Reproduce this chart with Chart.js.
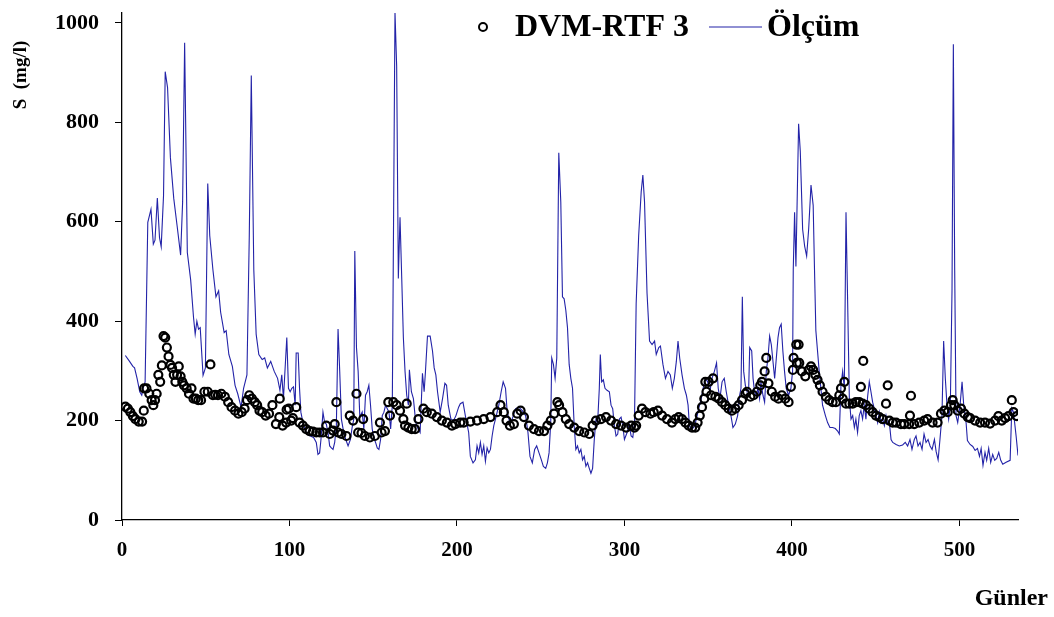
<!DOCTYPE html>
<html>
<head>
<meta charset="utf-8">
<script src="https://cdn.jsdelivr.net/npm/chart.js@4.4.1/dist/chart.umd.min.js"></script>
<style>
  html, body { margin: 0; padding: 0; background: #fff; }
  #wrap { width: 1054px; height: 617px; }
</style>
</head>
<body>
<div id="wrap"><canvas id="cv"></canvas></div>
<script>
// Ölçüm (measured) - day / value
const obsDays = [
  2, 4.5, 6.5, 7.5, 9, 10.6, 11.8, 12.6, 13.8, 15.4, 17.3, 18.7, 19.7, 21.1, 22.4, 23.4, 24.8, 25.8, 27.2, 28.9,
  30.9, 32.9, 35, 36.2, 37.4, 39, 41, 42.7, 43.7, 44.7, 45.7, 46.7, 48.4, 49.8, 51.2, 52.4, 54.3, 56.1, 57.7, 58.9,
  61, 62.2, 63.8, 65.9, 67.5, 69.1, 71.1, 72.6, 74.6, 76, 77.2, 78.7, 80.1, 81.7, 83.7, 85.2, 86.8, 88.8, 90.9, 92.9,
  94.3, 95.4, 96.4, 98.4, 99.4, 100.4, 101.4, 102.4, 103.4, 104, 105.2, 106, 106.8, 108.4, 110.4, 112.4, 114.4, 116, 117, 118,
  118.8, 120, 121, 122, 123, 124, 125, 126, 127, 128, 129, 130, 131, 132.4, 133.6, 135, 136.4, 137.4, 138.4, 139,
  140, 141, 142, 143.4, 144.4, 145.4, 146.4, 147.4, 148.4, 149.4, 150.4, 151.4, 152.4, 153.4, 154.4, 155.4, 156.4, 157.4, 158.4, 159.4,
  160.4, 161.4, 163, 164, 165, 166, 167, 168, 169, 170, 171, 171.6, 172.8, 174, 175.4, 176.8, 178, 179.4, 180.4, 181.2,
  182.4, 184, 185.4, 186.4, 187.4, 188.4, 190, 191.4, 192.8, 193.8, 194.8, 196.4, 198, 199.4, 201, 202, 203.6, 205, 207, 208,
  209.6, 211, 212, 213, 214, 215, 216, 217, 218, 219, 220, 221, 222, 223, 225, 226.4, 227.6, 229, 230, 231.6,
  233, 234, 235, 237, 239, 241, 242.4, 243.6, 245, 246.4, 247.6, 249, 250.4, 251.6, 253, 254, 255, 256, 256.6, 257.6,
  258.6, 259.6, 260.8, 262, 263, 264, 265, 266, 267, 268, 269, 270, 271, 272, 273, 274, 275, 276, 277, 278,
  279, 280, 281, 282, 283, 284, 285, 285.6, 286.4, 287.4, 288.4, 289.6, 291, 292, 293, 294, 295, 296, 297, 298,
  299, 300, 301.6, 302.8, 304, 305, 306, 307, 308.5, 310, 311, 312, 313.5, 315, 316.5, 318, 319, 320.5, 321.5, 323,
  324.5, 326, 327.4, 328.6, 329.8, 331, 332, 333, 334.4, 335.8, 337, 338, 338.8, 339.8, 341.4, 343, 344.3, 345.7, 347, 348.3,
  349.7, 351, 352.3, 353.7, 355, 356, 357, 358.3, 359.6, 360.8, 362.2, 363.6, 364.8, 366.2, 367.6, 368.8, 369.6, 370.4, 371.2, 372.2,
  373.2, 374.2, 374.8, 376, 376.8, 377.7, 378.7, 379.7, 380.7, 381.5, 382.7, 383.7, 384.7, 385.7, 386.7, 387.7, 388.7, 389.7, 390.7, 391.7,
  392.6, 393.6, 394.6, 395.6, 396.6, 398, 399.4, 400.4, 400.8, 401.6, 402.4, 404, 405, 406.4, 407.6, 408.8, 410, 411.4, 412.7, 413.5,
  414.3, 415.3, 416.3, 417.3, 418.3, 420, 421.3, 422.7, 424.3, 425.9, 427.3, 428.3, 429.3, 430.3, 431.3, 432.3, 433.3, 434.3, 435.3, 436.3,
  437.3, 438.2, 439.2, 440.2, 441.2, 442.2, 443.2, 444.2, 445.2, 446.2, 447.2, 448.2, 449.2, 450.2, 451.2, 452.2, 453.2, 454.2, 455.2, 456.2,
  457.2, 458.2, 459.2, 460.2, 462.2, 464.1, 466.1, 467.7, 469.1, 470.5, 471.7, 473.1, 474.1, 475.3, 476.5, 477.7, 478.9, 480.1, 481.3, 482.5,
  483.7, 485.1, 486.1, 487.3, 488.4, 489.6, 490.6, 491.6, 492.6, 493.6, 494.6, 495.6, 496.4, 497.2, 498, 499, 500.4, 501.6, 502.6, 504,
  504.8, 506.4, 508, 509.4, 510.8, 512, 513, 514.1, 515.3, 516.3, 517.5, 518.7, 519.9, 521.1, 522.3, 523.5, 524.7, 525.9, 527.9, 530.3,
  531.3, 532.3, 533.9, 535
];
const obsVals = [
  331, 319, 309, 306, 285, 258, 251, 265, 278, 599, 625, 555, 563, 648, 568, 550, 653, 902, 870, 729,
  647, 592, 533, 640, 960, 538, 483, 408, 374, 400, 384, 387, 291, 306, 677, 572, 503, 449, 461, 418,
  377, 381, 333, 309, 271, 254, 227, 265, 292, 572, 894, 503, 374, 333, 323, 326, 306, 319, 299, 285,
  261, 292, 244, 367, 265, 258, 265, 268, 231, 336, 336, 265, 217, 190, 173, 169, 166, 156, 132, 135,
  162, 217, 196, 193, 176, 149, 145, 142, 156, 190, 384, 299, 203, 176, 162, 149, 162, 186, 203, 541,
  347, 299, 207, 217, 183, 251, 258, 271, 231, 183, 166, 156, 145, 142, 162, 210, 217, 231, 224, 217,
  183, 231, 1022, 913, 486, 609, 490, 367, 299, 251, 231, 302, 258, 244, 196, 183, 176, 295, 258, 299,
  370, 370, 340, 306, 292, 258, 217, 244, 275, 271, 231, 203, 200, 210, 227, 234, 237, 210, 176, 128,
  115, 121, 149, 135, 156, 132, 149, 118, 145, 135, 142, 169, 190, 203, 231, 258, 278, 265, 217, 196,
  203, 214, 224, 227, 220, 210, 176, 128, 115, 142, 149, 135, 121, 108, 104, 115, 135, 196, 326, 313,
  285, 326, 739, 640, 449, 445, 422, 387, 313, 285, 265, 190, 142, 149, 135, 142, 121, 128, 108, 115,
  104, 94, 104, 162, 203, 196, 265, 333, 278, 282, 265, 261, 258, 231, 224, 190, 169, 173, 203, 207,
  190, 162, 176, 193, 169, 166, 196, 435, 572, 660, 694, 640, 456, 360, 353, 360, 333, 347, 350, 313,
  285, 299, 292, 265, 285, 319, 360, 326, 292, 265, 251, 231, 190, 183, 186, 203, 224, 241, 265, 285,
  278, 258, 285, 299, 316, 265, 244, 278, 285, 258, 231, 210, 186, 193, 210, 251, 265, 449, 299, 271,
  258, 265, 347, 340, 285, 258, 251, 265, 244, 278, 251, 237, 299, 326, 370, 353, 319, 285, 326, 367,
  387, 394, 340, 299, 265, 251, 265, 299, 503, 619, 510, 797, 742, 585, 551, 531, 585, 674, 633, 503,
  381, 340, 299, 265, 231, 210, 196, 186, 186, 184, 179, 173, 271, 299, 265, 619, 435, 244, 203, 210,
  186, 203, 176, 210, 220, 203, 231, 203, 248, 278, 258, 237, 224, 210, 196, 217, 196, 203, 190, 210,
  193, 196, 162, 156, 152, 149, 151, 156, 149, 162, 142, 162, 169, 149, 156, 142, 173, 156, 162, 149,
  142, 162, 138, 121, 162, 210, 360, 285, 231, 203, 231, 462, 957, 503, 210, 196, 231, 278, 231, 196,
  160, 152, 148, 140, 144, 128, 144, 110, 136, 120, 144, 116, 132, 120, 124, 136, 120, 112, 116, 120,
  225, 217, 168, 130
];

// DVM-RTF 3 (model) - day / value
const modelDays = [
  2, 3.5, 5, 6.5, 8, 10, 12, 13, 13.2, 14.6, 16.3, 17.7, 18.7, 19.7, 20.7, 21.7, 22.8, 23.8, 24.8, 25.8,
  26.8, 27.8, 28.9, 29.9, 30.9, 31.9, 32.9, 33.9, 35, 36, 37, 38.6, 40, 41.5, 42.7, 44.1, 45.5, 47.2, 49.2, 51.2,
  52.8, 54.3, 55.7, 57.3, 59.3, 61.4, 63.4, 65.4, 67.5, 69.5, 71.5, 73.2, 74.6, 76, 77.6, 79.3, 80.7, 82.1, 83.7, 85.8,
  87.8, 89.8, 91.9, 93.9, 94.2, 95.9, 98, 98.3, 99.6, 101, 102, 104, 106, 108, 110, 112, 114, 116, 118, 120,
  122, 124, 126, 127, 128, 129, 131, 134, 136, 138, 140, 141, 143, 144, 145, 148, 151, 154, 155, 157,
  159, 160, 162, 164, 166, 168, 169, 170, 171, 173, 175, 177, 180, 182, 185, 188, 191, 194, 197, 199,
  202, 204, 208, 212, 216, 220, 224, 226, 228, 229.6, 231.6, 234, 236, 238, 240, 243, 246, 249, 252, 254,
  256, 258, 260, 261, 263, 265, 267, 270, 273, 276, 279, 281, 283, 286, 289, 292, 295, 298, 301, 304,
  306, 307, 308.5, 310.5, 312.5, 315.5, 317.5, 320, 322.5, 325.4, 328.4, 330.4, 332.4, 334.4, 336.4, 338.4, 340.4, 342.3, 343.7, 345,
  346.3, 347.7, 348.3, 349, 350.3, 351.7, 352.9, 354.3, 356.3, 358.3, 360.2, 362.2, 364.2, 366.2, 368.2, 370.2, 372.2, 373.2, 375.2, 377.1,
  379.1, 381.1, 382.1, 383.7, 384.7, 386, 388, 390, 392, 394, 396, 398, 399.4, 400.6, 401, 402.6, 403, 404, 404.4, 406,
  408, 410, 411.4, 412.7, 414, 415.3, 416.7, 418.3, 420.3, 422.3, 424.3, 426.3, 428.3, 429.3, 430.3, 431.3, 432.3, 434.3, 436.3, 438.2,
  440.2, 441.2, 442.2, 442.6, 444.2, 446.2, 448.2, 450.2, 452.2, 454.2, 456.2, 457.2, 458.2, 460.2, 462.2, 465.1, 467.1, 470, 470.5, 471.1,
  473, 476, 479, 481, 484, 487, 489, 491, 493, 495, 496, 497, 499, 501, 503, 505, 506.4, 509.4, 512.4, 515.3,
  518.3, 521.3, 523.3, 525.3, 527.3, 529.3, 531.3, 532.3, 534.3
];
const modelVals = [
  228, 224, 217, 209, 203, 198, 198, 220, 265, 265, 254, 241, 231, 241, 254, 292, 278, 311, 370, 367,
  347, 329, 312, 306, 292, 278, 292, 309, 289, 278, 271, 265, 254, 265, 244, 244, 241, 241, 258, 258,
  313, 251, 252, 251, 254, 248, 237, 227, 220, 214, 217, 224, 241, 251, 244, 237, 231, 220, 217, 210,
  214, 231, 193, 207, 244, 190, 196, 222, 224, 200, 205, 227, 196, 190, 183, 179, 178, 176, 176, 176,
  190, 173, 180, 193, 237, 176, 173, 169, 210, 200, 254, 176, 175, 203, 169, 166, 169, 196, 176, 179,
  237, 210, 237, 231, 220, 203, 190, 234, 186, 183, 183, 203, 224, 217, 214, 207, 200, 196, 190, 193,
  196, 196, 198, 200, 203, 207, 217, 231, 217, 200, 190, 193, 214, 220, 207, 190, 183, 179, 179, 190,
  200, 214, 237, 231, 217, 203, 193, 186, 179, 176, 173, 190, 200, 203, 207, 200, 193, 190, 186, 190,
  186, 190, 210, 224, 217, 214, 217, 220, 210, 203, 196, 203, 207, 203, 196, 190, 186, 186, 196, 210,
  227, 244, 278, 258, 278, 251, 285, 248, 244, 237, 231, 224, 220, 224, 231, 241, 254, 258, 248, 251,
  258, 271, 278, 299, 326, 275, 258, 248, 244, 251, 244, 237, 268, 302, 326, 353, 316, 353, 316, 299,
  289, 302, 309, 302, 292, 282, 271, 258, 248, 241, 237, 237, 251, 265, 244, 278, 234, 234, 234, 237,
  237, 268, 234, 320, 231, 224, 217, 210, 207, 203, 234, 271, 200, 196, 196, 193, 193, 193, 210, 250,
  193, 196, 200, 203, 196, 196, 214, 220, 217, 231, 241, 231, 220, 224, 214, 207, 205, 200, 196, 196,
  194, 200, 209, 200, 205, 209, 241, 217, 209
];

const xTickVals = [0, 100, 200, 300, 400, 500];
const yTickVals = [0, 200, 400, 600, 800, 1000];

const obsColor = '#2323a8';

const textPlugin = {
  id: 'texts',
  afterDraw(chart) {
    const ctx = chart.ctx;
    ctx.save();
    ctx.fillStyle = '#000';
    // y title
    ctx.font = 'bold 19px "Liberation Serif"';
    ctx.textAlign = 'center';
    ctx.textBaseline = 'middle';
    ctx.translate(21, 75);
    ctx.rotate(-Math.PI / 2);
    ctx.fillText('S  (mg/l)', 0, 0);
    ctx.setTransform(1, 0, 0, 1, 0, 0);
    // x title
    ctx.font = 'bold 24px "Liberation Serif"';
    ctx.textAlign = 'right';
    ctx.fillText('Günler', 1048, 599);
    // legend
    ctx.beginPath();
    ctx.arc(483, 27, 4, 0, Math.PI * 2);
    ctx.lineWidth = 2;
    ctx.strokeStyle = '#000';
    ctx.stroke();
    ctx.font = 'bold 32px "Liberation Serif"';
    ctx.textAlign = 'left';
    ctx.fillText('DVM-RTF 3', 515, 28);
    ctx.beginPath();
    ctx.moveTo(709, 27);
    ctx.lineTo(762, 27);
    ctx.lineWidth = 1.2;
    ctx.strokeStyle = obsColor;
    ctx.stroke();
    ctx.fillText('Ölçüm', 767, 28);
    ctx.restore();
  }
};

function noPad(s) {
  s.paddingTop = 0;
  s.paddingBottom = 0;
  s.paddingLeft = 0;
  s.paddingRight = 0;
}

new Chart(document.getElementById('cv'), {
  type: 'scatter',
  data: {
    datasets: [
      {
        label: 'DVM-RTF 3',
        data: modelDays.map((d, i) => ({ x: d, y: modelVals[i] })),
        showLine: false,
        pointStyle: 'circle',
        pointRadius: 4,
        pointBorderWidth: 2.2,
        pointBorderColor: '#000',
        pointBackgroundColor: 'rgba(255,255,255,0)'
      },
      {
        label: 'Ölçüm',
        data: obsDays.map((d, i) => ({ x: d, y: obsVals[i] })),
        showLine: true,
        borderColor: obsColor,
        borderWidth: 1.1,
        pointRadius: 0,
        tension: 0
      }
    ]
  },
  options: {
    responsive: true,
    maintainAspectRatio: false,
    animation: false,
    layout: { padding: { left: 0, right: 36, top: 13, bottom: 0 } },
    plugins: { legend: { display: false }, tooltip: { enabled: false } },
    scales: {
      x: {
        type: 'linear',
        min: 0,
        max: 535,
        afterFit: s => { s.height = 97; noPad(s); },
        afterBuildTicks: s => { s.ticks = xTickVals.map(v => ({ value: v })); },
        grid: { drawOnChartArea: false, drawTicks: true, tickLength: 6, color: '#000' },
        border: { color: '#000', width: 1.3 },
        ticks: {
          padding: 12,
          color: '#000',
          callback: v => String(v),
          font: { family: 'Liberation Serif', weight: 'bold', size: 21 }
        }
      },
      y: {
        min: 0,
        max: 1020,
        afterFit: s => { s.width = 122; noPad(s); },
        afterBuildTicks: s => { s.ticks = yTickVals.map(v => ({ value: v })); },
        grid: { drawOnChartArea: false, drawTicks: true, tickLength: 7, color: '#000' },
        border: { color: '#000', width: 1.3 },
        ticks: {
          padding: 16,
          color: '#000',
          callback: v => String(v),
          font: { family: 'Liberation Serif', weight: 'bold', size: 22 }
        }
      }
    }
  },
  plugins: [textPlugin]
});
</script>
</body>
</html>
